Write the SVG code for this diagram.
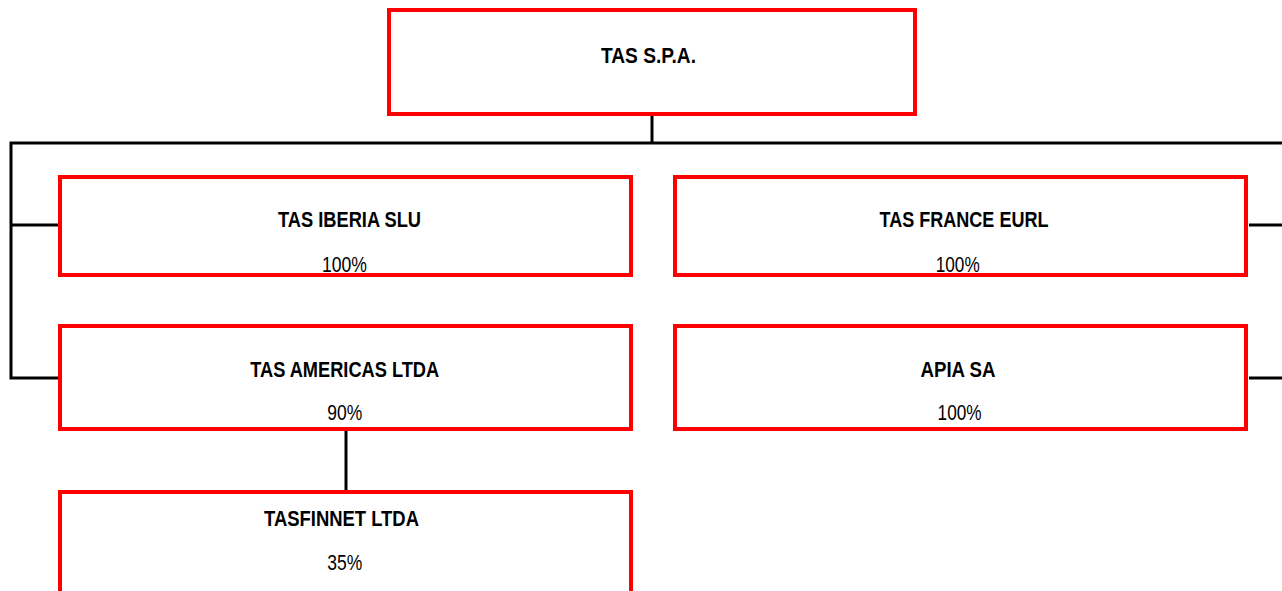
<svg xmlns="http://www.w3.org/2000/svg" width="1282" height="591" viewBox="0 0 1282 591">
<style>
.box{fill:#fff;stroke:#ff0000;stroke-width:4}
.ln{fill:none;stroke:#000;stroke-width:3}
.t{font-family:"Liberation Sans Narrow","Liberation Sans",Arial,sans-serif;font-size:22px;font-weight:bold;fill:#000;text-anchor:middle}
.p{font-family:"Liberation Sans Narrow","Liberation Sans",Arial,sans-serif;font-size:22px;fill:#000;text-anchor:middle}
</style>
<rect width="1282" height="591" fill="#fff"/>
<g id="connectors">
<path class="ln" d="M652,116 V143"/>
<path class="ln" d="M1282,143 H11 V378 H58" stroke-linejoin="miter"/>
<path class="ln" d="M11,225 H58"/>
<path class="ln" d="M1249,225 H1282"/>
<path class="ln" d="M1249,378 H1282"/>
<path class="ln" d="M346,431 V490"/>
</g>
<g id="tas-spa">
<rect class="box" x="389" y="10" width="526" height="104"/>
<text class="t" x="648.5" y="63" textLength="95" lengthAdjust="spacingAndGlyphs">TAS S.P.A.</text>
</g>
<g id="tas-iberia">
<rect class="box" x="60" y="177" width="571" height="98"/>
<text class="t" x="349.5" y="227" textLength="143" lengthAdjust="spacingAndGlyphs">TAS IBERIA SLU</text>
<text class="p" x="344.5" y="272" textLength="45" lengthAdjust="spacingAndGlyphs">100%</text>
</g>
<g id="tas-france">
<rect class="box" x="675" y="177" width="571" height="98"/>
<text class="t" x="964" y="227" textLength="169" lengthAdjust="spacingAndGlyphs">TAS FRANCE EURL</text>
<text class="p" x="957.7" y="272" textLength="44" lengthAdjust="spacingAndGlyphs">100%</text>
</g>
<g id="tas-americas">
<rect class="box" x="60" y="326" width="571" height="103"/>
<text class="t" x="344.7" y="377" textLength="189" lengthAdjust="spacingAndGlyphs">TAS AMERICAS LTDA</text>
<text class="p" x="344.7" y="420" textLength="35" lengthAdjust="spacingAndGlyphs">90%</text>
</g>
<g id="apia">
<rect class="box" x="675" y="326" width="571" height="103"/>
<text class="t" x="958" y="377" textLength="75" lengthAdjust="spacingAndGlyphs">APIA SA</text>
<text class="p" x="959.6" y="420" textLength="44" lengthAdjust="spacingAndGlyphs">100%</text>
</g>
<g id="tasfinnet">
<rect class="box" x="60" y="492" width="571" height="110"/>
<text class="t" x="341.5" y="526" textLength="155" lengthAdjust="spacingAndGlyphs">TASFINNET LTDA</text>
<text class="p" x="344.7" y="570" textLength="35" lengthAdjust="spacingAndGlyphs">35%</text>
</g>
</svg>
